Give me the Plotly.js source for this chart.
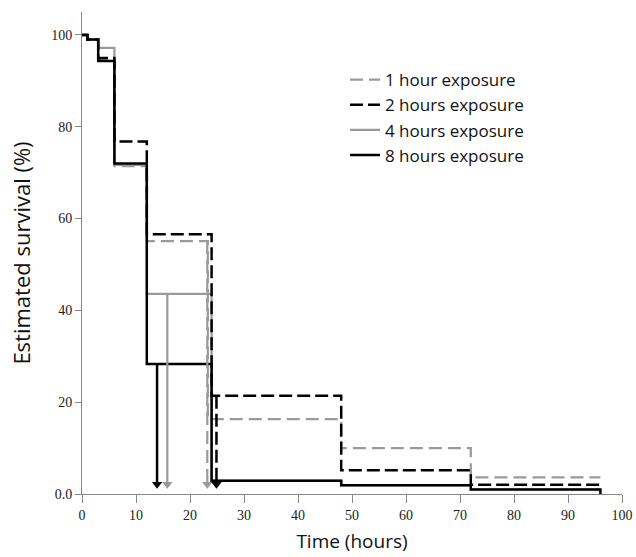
<!DOCTYPE html>
<html>
<head>
<meta charset="utf-8">
<script src="https://cdn.plot.ly/plotly-3.0.1.min.js"></script>
<style>html,body{margin:0;padding:0;background:#fff;}#chart{width:636px;height:557px;}</style>
</head>
<body>
<div id="chart"></div>
<script>
// Step times (hours)
const stepTimes = [0, 1, 3, 6, 12, 24, 48, 72, 96];
const oneHourTimes = [0, 1, 3, 6, 12, 23.3, 48, 72, 96];
// Estimated survival (%)
const oneHour = [100, 99, 94.6, 71.4, 55.1, 16.3, 10.0, 3.6, 3.6];
const twoHours = [100, 99, 95.0, 76.8, 56.6, 21.4, 5.2, 2.0, 2.0];
const fourHours = [100, 99, 97.2, 71.7, 43.6, 2.9, 1.9, 1.0, 1.0];
const eightHours = [100, 99, 94.3, 72.0, 28.3, 2.9, 1.9, 1.0, 0];
// Median survival arrows
const arrowTimes = [13.9, 15.8, 23.2, 24.9];
const arrowFrom = [28.3, 43.6, 55.1, 21.4];
const arrowTo = [0.9, 0.9, 0.9, 0.9];
const seriesNames = ['1 hour exposure', '2 hours exposure', '4 hours exposure', '8 hours exposure'];
const xTicks = [0, 10, 20, 30, 40, 50, 60, 70, 80, 90, 100];
const yTicks = [0, 20, 40, 60, 80, 100];
const yTickText = ['0.0', '20', '40', '60', '80', '100'];

const GRAY = '#9a9a9a';
const BLACK = '#000000';
const styles = [
  {color: GRAY, width: 2.2, dash: '13px,6px'},
  {color: BLACK, width: 2.5, dash: '13px,5px'},
  {color: GRAY, width: 2.2, dash: 'solid'},
  {color: BLACK, width: 2.5, dash: 'solid'}
];
const arrowStyle = [styles[3], styles[2], styles[0], styles[1]];

const traces = [];
const seriesData = [
  {t: oneHourTimes, v: oneHour},
  {t: stepTimes, v: twoHours},
  {t: stepTimes, v: fourHours},
  {t: stepTimes, v: eightHours}
];
[2, 0, 1, 3].forEach(function (i) {
  traces.push({
    type: 'scatter', mode: 'lines',
    x: seriesData[i].t, y: seriesData[i].v,
    name: seriesNames[i],
    legendgroup: 'g' + i,
    legendrank: i + 1,
    line: {shape: 'hv', color: styles[i].color, width: styles[i].width, dash: styles[i].dash},
    hoverinfo: 'x+y+name'
  });
});
arrowTimes.forEach(function (t, k) {
  const st = arrowStyle[k];
  traces.push({
    type: 'scatter', mode: 'lines',
    x: [t, t], y: [arrowFrom[k], arrowTo[k] + 1.5],
    line: {color: st.color, width: st.width, dash: st.dash},
    showlegend: false, hoverinfo: 'skip'
  });
  traces.push({
    type: 'scatter', mode: 'markers',
    x: [t], y: [arrowTo[k] + 1.2],
    marker: {symbol: 'triangle-down', size: 9, color: st.color},
    showlegend: false, hoverinfo: 'skip'
  });
});

const tickFont = {family: '"Liberation Serif", "DejaVu Serif", serif', size: 14, color: '#222'};
const xTitleFont = {family: '"Open Sans", "Noto Sans", sans-serif', size: 19, color: '#111'};
const yTitleFont = {family: '"Open Sans", "Noto Sans", sans-serif', size: 22, color: '#111'};

const layout = {
  width: 636, height: 557,
  margin: {l: 82, r: 14, t: 12, b: 63},
  paper_bgcolor: '#fff', plot_bgcolor: '#fff',
  showlegend: true,
  legend: {
    x: 0.487, y: 0.896, xanchor: 'left', yanchor: 'top',
    font: {family: '"Open Sans", "Noto Sans", sans-serif', size: 17, color: '#111'},
    bgcolor: 'rgba(0,0,0,0)', borderwidth: 0,
    tracegroupgap: 5, traceorder: 'normal'
  },
  xaxis: {
    range: [0, 100], tickvals: xTicks, ticktext: xTicks.map(String),
    showgrid: false, zeroline: false, showline: true, linecolor: '#888', linewidth: 1,
    ticks: 'outside', ticklen: 8, tickcolor: '#888', tickwidth: 1,
    tickfont: tickFont, fixedrange: true,
    title: {text: 'Time (hours)', font: xTitleFont, standoff: 12}
  },
  yaxis: {
    range: [0, 105], tickvals: yTicks, ticktext: yTickText,
    showgrid: false, zeroline: false, showline: true, linecolor: '#888', linewidth: 1,
    ticks: 'outside', ticklen: 6, tickcolor: '#888', tickwidth: 1,
    tickfont: tickFont, fixedrange: true,
    title: {text: 'Estimated survival (%)', font: yTitleFont, standoff: 14}
  }
};

Plotly.newPlot('chart', traces, layout, {displayModeBar: false, staticPlot: true});
</script>
</body>
</html>
